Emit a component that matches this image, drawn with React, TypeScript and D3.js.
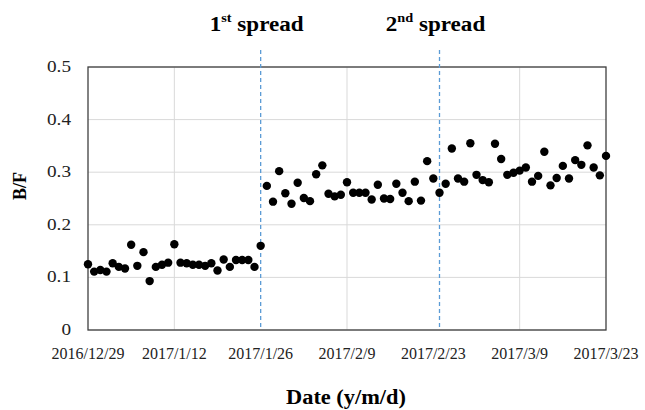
import React from "react";
import * as d3 from "d3";

const startDate = new Date(2016, 11, 29);
const endDate = new Date(2017, 2, 23);
const bfValues: number[] = [
  0.125, 0.111, 0.114, 0.111, 0.127, 0.12, 0.117, 0.162, 0.122, 0.148,
  0.093, 0.12, 0.124, 0.128, 0.163, 0.128, 0.127, 0.124, 0.124, 0.122,
  0.127, 0.113, 0.134, 0.12, 0.133, 0.133, 0.133, 0.12, 0.16,
  0.274, 0.244, 0.302, 0.26, 0.24, 0.28, 0.251, 0.245, 0.296, 0.313,
  0.259, 0.254, 0.257, 0.281, 0.261, 0.261, 0.261, 0.248, 0.276, 0.25,
  0.249, 0.278, 0.261, 0.245, 0.282, 0.246, 0.321, 0.288, 0.261, 0.278,
  0.345, 0.288, 0.282, 0.355, 0.295, 0.285, 0.281, 0.354, 0.325, 0.295,
  0.299, 0.303, 0.309, 0.282, 0.293, 0.339, 0.275, 0.289, 0.312, 0.288,
  0.323, 0.314, 0.351, 0.309, 0.294, 0.331,
];
const xTickDates = [
  new Date(2016, 11, 29), new Date(2017, 0, 12), new Date(2017, 0, 26),
  new Date(2017, 1, 9), new Date(2017, 1, 23), new Date(2017, 2, 9), new Date(2017, 2, 23),
];
const xGridDates = [new Date(2017, 0, 12), new Date(2017, 1, 9), new Date(2017, 2, 9)];
const yTicks = [0, 0.1, 0.2, 0.3, 0.4, 0.5];
const spreadDates = [new Date(2017, 0, 26), new Date(2017, 1, 24)];
const spreadLabels = [{ n: "1", sup: "st" }, { n: "2", sup: "nd" }];

const fmt = (d: Date) => `${d.getFullYear()}/${d.getMonth() + 1}/${d.getDate()}`;
const FONT = "'Liberation Serif', 'Times New Roman', serif";

function SText(props: { x: number; y: number; sx: number; children: React.ReactNode; [k: string]: any }) {
  const { x, y, sx, children, ...rest } = props;
  return (
    <g transform={`translate(${x},${y}) scale(${sx},1)`}>
      <text x={0} y={0} fontFamily={FONT} {...rest}>{children}</text>
    </g>
  );
}

export default function App() {
  const W = 645, H = 410;
  const left = 88, right = 606, top = 67, bottom = 330;
  const x = d3.scaleTime().domain([startDate, endDate]).range([left, right]);
  const y = d3.scaleLinear().domain([0, 0.5]).range([bottom, top]);
  const dates = d3.timeDay.range(startDate, d3.timeDay.offset(endDate, 1));
  const data = bfValues.map((v, i) => ({ d: dates[i], v }));

  return (
    <svg width={W} height={H} style={{ position: "absolute", left: 0, top: 0, background: "#fff" }} fontFamily={FONT}>
      <rect x={0} y={0} width={W} height={H} fill="#fff" />
      {yTicks.map((t) => (
        <line key={"hg" + t} x1={left} x2={right} y1={y(t)} y2={y(t)} stroke="#d9d9d9" strokeWidth={1} />
      ))}
      {xGridDates.map((d, i) => (
        <line key={"vg" + i} x1={x(d)} x2={x(d)} y1={top} y2={bottom} stroke="#d9d9d9" strokeWidth={1} />
      ))}
      <rect x={left} y={top} width={right - left} height={bottom - top} fill="none" stroke="#404040" strokeWidth={1.3} />
      {spreadDates.map((d, i) => (
        <line key={"sp" + i} x1={x(d)} x2={x(d)} y1={50} y2={bottom} stroke="#5b9bd5" strokeWidth={1.3} strokeDasharray="4,3" />
      ))}
      {data.map((p, i) => (
        <circle key={i} cx={x(p.d)} cy={y(p.v)} r={4.2} fill="#000" />
      ))}
      {yTicks.map((t) => (
        <SText key={"yl" + t} x={71} y={y(t) + 5} sx={1.2} textAnchor="end" fontSize={16} fill="#222">
          {t === 0 ? "0" : t.toFixed(1)}
        </SText>
      ))}
      {xTickDates.map((d, i) => (
        <text key={"xl" + i} x={x(d)} y={359} textAnchor="middle" fontSize={16} fill="#222" fontFamily={FONT}>
          {fmt(d)}
        </text>
      ))}
      {spreadDates.map((d, i) => (
        <SText key={"st" + i} x={x(d) - 4} y={31} sx={1.1} textAnchor="middle" fontSize={21} fontWeight="bold" fill="#000">
          {spreadLabels[i].n}
          <tspan fontSize={13} dy={-9}>{spreadLabels[i].sup}</tspan>
          <tspan dy={9}>{" spread"}</tspan>
        </SText>
      ))}
      <SText x={346} y={404} sx={1.12} textAnchor="middle" fontSize={20} fontWeight="bold" fill="#000">Date (y/m/d)</SText>
      <text transform={`translate(26,186) rotate(-90)`} textAnchor="middle" fontSize={18} fontWeight="bold" fill="#000" fontFamily={FONT}>B/F</text>
    </svg>
  );
}
